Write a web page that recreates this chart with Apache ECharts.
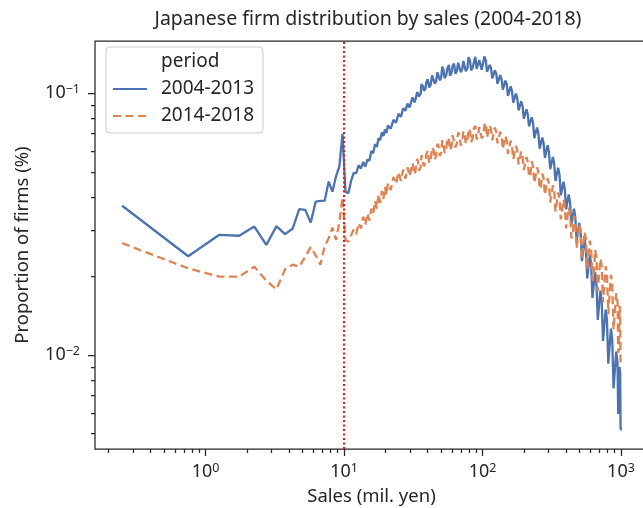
<!DOCTYPE html>
<html>
<head>
<meta charset="utf-8">
<title>Japanese firm distribution by sales</title>
<script src="https://cdn.jsdelivr.net/npm/echarts@6/dist/echarts.min.js"></script>
<style>
  html, body { margin: 0; padding: 0; background: #fff; }
  #chart { width: 643px; height: 508px; }
</style>
</head>
<body>
<div id="chart"></div>
<script>
  // sales bin centres (mil. yen)
  var salesBins = [0.25, 0.75, 1.25, 1.75, 2.25, 2.75, 3.25, 3.75, 4.25, 4.75, 5.25, 5.75, 6.25, 6.75, 7.25, 7.75,
    8.25, 8.75, 9.25, 9.75, 10.25, 10.75, 11.25, 11.75,
    12.25, 12.75, 13.25, 13.75, 14.25, 14.75, 15.25, 15.75, 16.25, 16.75, 17.25, 17.75, 18.25, 18.75, 19.25, 19.75, 20.25, 20.75,
    21.75, 22.75, 23.75, 24.75, 25.75, 26.75, 27.75, 28.75, 29.75,
    31.25, 32.25, 32.75, 33.75, 34.25, 34.75, 35.75, 36.25, 37.25, 37.75,
    38.75, 39.25, 40.25, 41.25, 42.25, 43.25, 44.25, 45.25, 46.25, 47.25,
    48.25, 49.25, 50.25, 51.25, 52.25, 53.25, 54.75, 55.75, 57.25, 58.25,
    59.75, 60.75, 62.25, 63.75, 65.25, 66.75, 68.25, 69.75, 71.25, 72.75,
    74.25, 75.75, 77.75, 79.25, 81.25, 82.75, 84.75, 86.75, 88.75, 90.75,
    92.75, 94.75, 96.75, 98.75, 101.25, 103.25, 105.75, 107.75, 110.25, 112.75,
    115.25, 117.75, 120.25, 122.75, 125.75, 128.25, 131.25, 134.25, 137.25, 140.25,
    143.25, 146.25, 149.75, 152.75, 156.25, 159.75, 163.25, 166.75, 170.75, 174.25,
    178.25, 182.25, 186.25, 190.25, 194.75, 198.75, 203.25, 207.75, 212.25, 216.75,
    221.75, 226.75, 231.75, 236.75, 242.25, 247.75, 253.25, 258.75, 264.25, 270.25,
    276.25, 282.25, 288.75, 295.25, 301.75, 308.25, 315.25, 322.25, 329.25, 336.75,
    344.25, 351.75, 359.75, 367.75, 375.75, 384.25, 392.75, 401.25, 410.25, 419.25,
    428.75, 438.25, 447.75, 457.75, 467.75, 478.25, 488.75, 499.75, 510.75, 522.25,
    533.75, 545.75, 557.75, 570.25, 582.75, 595.75, 608.75, 622.25, 636.25, 650.25,
    664.75, 679.75, 694.75, 710.25, 725.75, 741.75, 758.25, 775.25, 792.25, 809.75,
    827.75, 846.25, 864.75, 883.75, 903.75, 923.75, 944.25, 954.75, 965.25, 975.75,
    986.75, 993.25, 999.75];

  // proportion of firms, 2004-2013
  var share2004 = [0.0371, 0.0238, 0.0287, 0.0285, 0.0309, 0.0263, 0.031, 0.0289, 0.0303, 0.036, 0.0358, 0.032, 0.0385, 0.0387, 0.0388, 0.0459,
    0.042, 0.048, 0.0523, 0.0698, 0.042, 0.0414, 0.0462, 0.0495,
    0.0494, 0.0530, 0.0515, 0.0545, 0.0523, 0.0557, 0.0551, 0.0601, 0.0589, 0.0638, 0.0622, 0.0672, 0.0660, 0.0706, 0.0686, 0.0726, 0.0704, 0.0752,
    0.0731, 0.0790, 0.0770, 0.0833, 0.0811, 0.0875, 0.0855, 0.0911, 0.0881,
    0.0962, 0.0921, 0.0940, 0.1010, 0.1008, 0.0970, 0.0995, 0.1082, 0.1060, 0.1020,
    0.1040, 0.1095, 0.1130, 0.1050, 0.1075, 0.1168, 0.1155, 0.1085, 0.1110, 0.1200,
    0.1195, 0.1118, 0.1145, 0.1262, 0.1225, 0.1140, 0.1170, 0.1240, 0.1280, 0.1165,
    0.1195, 0.1262, 0.1295, 0.1185, 0.1212, 0.1305, 0.1290, 0.1200, 0.1228, 0.1325,
    0.1318, 0.1212, 0.1240, 0.1370, 0.1330, 0.1220, 0.1245, 0.1310, 0.1375, 0.1236,
    0.1252, 0.1335, 0.1345, 0.1228, 0.1240, 0.1380, 0.1330, 0.1205, 0.1212, 0.1280,
    0.1245, 0.1138, 0.1145, 0.1220, 0.1185, 0.1085, 0.1088, 0.1170, 0.1130, 0.1030,
    0.1032, 0.1115, 0.1078, 0.0975, 0.0975, 0.1060, 0.1018, 0.0918, 0.0916, 0.0995,
    0.0955, 0.0858, 0.0856, 0.0930, 0.0890, 0.0798, 0.0797, 0.0866, 0.0828, 0.0745,
    0.0742, 0.0808, 0.0768, 0.0672, 0.0670, 0.0738, 0.0700, 0.0613, 0.0612, 0.0676,
    0.0642, 0.0565, 0.0563, 0.0632, 0.0596, 0.0512, 0.0509, 0.0570, 0.0538, 0.0461,
    0.0458, 0.0518, 0.0487, 0.0407, 0.0406, 0.0458, 0.0430, 0.0360, 0.0358, 0.0410,
    0.0382, 0.0313, 0.0311, 0.0362, 0.0336, 0.0271, 0.0269, 0.0319, 0.0295, 0.0228,
    0.0228, 0.0277, 0.0254, 0.0196, 0.0195, 0.0241, 0.0221, 0.0165, 0.0163, 0.0207,
    0.0188, 0.0136, 0.0135, 0.0176, 0.0160, 0.0113, 0.0112, 0.0149, 0.0136, 0.00925,
    0.00910, 0.0126, 0.0114, 0.00745, 0.00735, 0.0103, 0.00930, 0.00595, 0.00590, 0.00900,
    0.00850, 0.00530, 0.00515];

  // proportion of firms, 2014-2018
  var share2014 = [0.0267, 0.0214, 0.0199, 0.0199, 0.0217, 0.0192, 0.0178, 0.0212, 0.0221, 0.0217, 0.0237, 0.0258, 0.024, 0.0221, 0.026, 0.0279,
    0.0306, 0.0275, 0.032, 0.040, 0.0275, 0.027, 0.0286, 0.0301,
    0.0289, 0.0318, 0.0304, 0.0337, 0.0314, 0.0347, 0.0326, 0.0362, 0.0345, 0.0387, 0.0362, 0.0410, 0.0381, 0.0423, 0.0394, 0.0438, 0.0407, 0.0452,
    0.0426, 0.0478, 0.0450, 0.0499, 0.0462, 0.0510, 0.0471, 0.0520, 0.0481,
    0.0540, 0.0488, 0.0500, 0.0560, 0.0548, 0.0505, 0.0520, 0.0580, 0.0570, 0.0525,
    0.0540, 0.0582, 0.0602, 0.0540, 0.0556, 0.0620, 0.0608, 0.0556, 0.0574, 0.0640,
    0.0626, 0.0574, 0.0592, 0.0660, 0.0644, 0.0590, 0.0610, 0.0675, 0.0662, 0.0605,
    0.0625, 0.0690, 0.0678, 0.0620, 0.0640, 0.0708, 0.0690, 0.0630, 0.0650, 0.0715,
    0.0700, 0.0640, 0.0660, 0.0730, 0.0712, 0.0650, 0.0670, 0.0735, 0.0750, 0.0665,
    0.0680, 0.0742, 0.0730, 0.0672, 0.0685, 0.0752, 0.0770, 0.0675, 0.0684, 0.0752,
    0.0725, 0.0660, 0.0670, 0.0738, 0.0710, 0.0642, 0.0650, 0.0712, 0.0688, 0.0610,
    0.0618, 0.0685, 0.0660, 0.0586, 0.0594, 0.0658, 0.0632, 0.0558, 0.0567, 0.0628,
    0.0604, 0.0534, 0.0542, 0.0598, 0.0575, 0.0508, 0.0516, 0.0570, 0.0546, 0.0478,
    0.0487, 0.0548, 0.0525, 0.0453, 0.0461, 0.0520, 0.0498, 0.0430, 0.0438, 0.0492,
    0.0472, 0.0408, 0.0415, 0.0472, 0.0450, 0.0382, 0.0387, 0.0444, 0.0421, 0.0352,
    0.0357, 0.0417, 0.0396, 0.0329, 0.0334, 0.0392, 0.0372, 0.0304, 0.0309, 0.0366,
    0.0347, 0.0279, 0.0284, 0.0340, 0.0322, 0.0255, 0.0259, 0.0316, 0.0298, 0.0232,
    0.0236, 0.0295, 0.0277, 0.0212, 0.0215, 0.0273, 0.0257, 0.0192, 0.0196, 0.0252,
    0.0237, 0.0175, 0.0178, 0.0233, 0.0219, 0.0159, 0.0161, 0.0218, 0.0203, 0.0143,
    0.0144, 0.0202, 0.0187, 0.0125, 0.0125, 0.0172, 0.0160, 0.0102, 0.0104, 0.0154,
    0.0146, 0.0091, 0.0092];

  var xMajorTicks = [1, 10, 100, 1000];
  var yMajorTicks = [0.01, 0.1];
  var xDecades = [0.1, 1, 10, 100, 1000];
  var yDecades = [0.001, 0.01, 0.1];
  var cutoffSales = 10;

  var font = 'Noto Sans';
  var ink = '#262626';
  var xMin = 0.1592, xMax = 1567;
  var yMin = 0.00437, yMax = 0.158;

  function minorTicks(decades) {
    var out = [];
    decades.forEach(function (d) {
      for (var k = 2; k <= 9; k++) out.push(+(d * k).toPrecision(3));
    });
    return out;
  }

  function pairs(ys) {
    return salesBins.map(function (x, i) { return [x, ys[i]]; });
  }

  function powerLabel(v) {
    var e = Math.round(Math.log10(v));
    return '{b|10}{s|' + (e < 0 ? '\u2212' + (-e) : e) + '}';
  }

  var labelRich = {
    b: { fontFamily: font, fontSize: 18, color: ink, lineHeight: 20 },
    s: { fontFamily: font, fontSize: 12.5, color: ink, verticalAlign: 'top', lineHeight: 12 }
  };
  var tickStyle = { color: ink, width: 1.25 };

  var myChart = echarts.init(document.getElementById('chart'));
  var option = {
    animation: false,
    textStyle: { fontFamily: font },
    title: {
      text: 'Japanese firm distribution by sales (2004-2018)',
      left: 368,
      textAlign: 'center',
      top: 9,
      padding: 0,
      textStyle: { fontFamily: font, fontSize: 19.5, fontWeight: 'normal', color: ink }
    },
    legend: {
      orient: 'vertical',
      left: 106,
      top: 47,
      padding: [5, 9, 7, 6],
      itemWidth: 34,
      itemHeight: 14,
      itemGap: 7,
      borderColor: '#cccccc',
      borderWidth: 1,
      borderRadius: 4,
      backgroundColor: 'rgba(255,255,255,0.8)',
      itemStyle: { opacity: 0, borderWidth: 0 },
      textStyle: { fontFamily: font, fontSize: 19, color: ink, lineHeight: 20, padding: [0, 0, 0, 9] },
      data: [{ name: 'period', icon: 'none' }, { name: '2004-2013' }, { name: '2014-2018' }]
    },
    grid: {
      left: 95,
      top: 41,
      right: -5,
      bottom: 59,
      show: true,
      borderColor: ink,
      borderWidth: 1.25,
      outerBoundsMode: 'none'
    },
    xAxis: [{
      type: 'log',
      min: xMin,
      max: xMax,
      position: 'bottom',
      axisLine: { show: false },
      splitLine: { show: false },
      axisTick: { show: true, length: 7, customValues: xMajorTicks, lineStyle: tickStyle },
      axisLabel: { customValues: xMajorTicks, formatter: powerLabel, rich: labelRich, margin: 13 },
      name: 'Sales (mil. yen)',
      nameLocation: 'middle',
      nameGap: 38,
      nameTextStyle: { fontFamily: font, fontSize: 18.5, color: ink }
    }, {
      type: 'log',
      min: xMin,
      max: xMax,
      position: 'bottom',
      axisLine: { show: false },
      splitLine: { show: false },
      axisTick: { show: true, length: 4, customValues: minorTicks(xDecades), lineStyle: tickStyle },
      axisLabel: { show: false }
    }],
    yAxis: [{
      type: 'log',
      min: yMin,
      max: yMax,
      position: 'left',
      axisLine: { show: false },
      splitLine: { show: false },
      axisTick: { show: true, length: 7, customValues: yMajorTicks, lineStyle: tickStyle },
      axisLabel: { customValues: yMajorTicks, formatter: powerLabel, rich: labelRich, margin: 15 },
      name: 'Proportion of firms (%)',
      nameLocation: 'middle',
      nameGap: 63,
      nameTextStyle: { fontFamily: font, fontSize: 18.5, color: ink }
    }, {
      type: 'log',
      min: yMin,
      max: yMax,
      position: 'left',
      axisLine: { show: false },
      splitLine: { show: false },
      axisTick: { show: true, length: 4, customValues: minorTicks(yDecades), lineStyle: tickStyle },
      axisLabel: { show: false }
    }],
    series: [{
      name: 'period',
      type: 'line',
      data: []
    }, {
      name: '2004-2013',
      type: 'line',
      data: pairs(share2004),
      symbol: 'none',
      color: '#4c72b0',
      lineStyle: { color: '#4c72b0', width: 2.3 },
      markLine: {
        silent: true,
        symbol: 'none',
        label: { show: false },
        lineStyle: { color: '#ee1111', type: [2, 2.5], width: 2 },
        data: [{ xAxis: cutoffSales }]
      }
    }, {
      name: '2014-2018',
      type: 'line',
      data: pairs(share2014),
      symbol: 'none',
      color: '#dd8452',
      lineStyle: { color: '#dd8452', width: 2.3, type: [8, 4.5] }
    }]
  };
  myChart.setOption(option);
</script>
</body>
</html>
